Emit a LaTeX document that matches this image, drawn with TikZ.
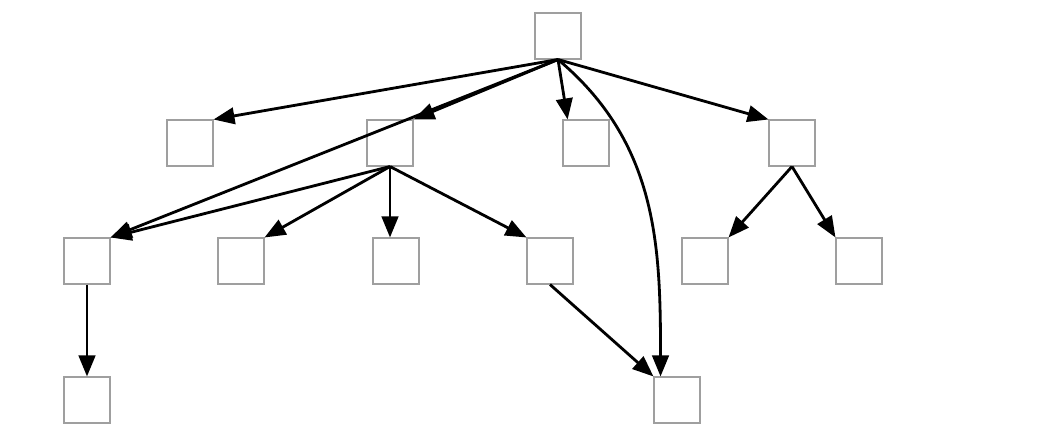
\documentclass[tikz,border=0pt]{standalone}
\usetikzlibrary{arrows.meta}
\tikzstyle{box} = [rectangle, minimum width=0.92cm, minimum height=0.92cm, inner sep=0pt, draw=gray!75, line width=0.6pt, fill=white]
\tikzstyle{arrow} = [line width=1.6pt,->,>={Stealth[length=0.42cm,width=0.33cm,inset=0pt]}]

\begin{document}
\begin{tikzpicture}[x=0.02cm, y=0.02cm]
\useasboundingbox (0,0) rectangle (1062,430);

\node (top) [box] at (558,394) {};
\node (a1) [box] at (190,287) {};
\node (a2) [box] at (390,287) {};
\node (a3) [box] at (586,287) {};
\node (a4) [box] at (792,287) {};
\node (b1) [box] at (87,169) {};
\node (b2) [box] at (241,169) {};
\node (b3) [box] at (396,169) {};
\node (b4) [box] at (550,169) {};
\node (b5) [box] at (705,169) {};
\node (b6) [box] at (859,169) {};
\node (c1) [box] at (87,30) {};
\node (c2) [box] at (677,30) {};

\draw [arrow] (top.south) -- (a1.north east);
\draw [arrow] (top.south) -- (a2.north east);
\draw [arrow] (top.south) -- (a3.128);
\draw [arrow] (top.south) -- (a4.north west);
\draw [arrow] (top.south) -- (b1.north east);
\draw [arrow] (top.south) to[out=-40, in=90] (c2.125);
\draw [arrow] (a2.south) -- (b1.north east);
\draw [arrow] (a2.south) -- (b2.north east);
\draw [arrow] (a2.south) -- (a2.south |- b3.north);
\draw [arrow] (a2.south) -- (b4.north west);
\draw [arrow] (a4.south) -- (b5.north east);
\draw [arrow] (a4.south) -- (b6.north west);
\draw [arrow] (b1.south) -- (c1.north);
\draw [arrow] (b4.south) -- (c2.north west);

\end{tikzpicture}
\end{document}
